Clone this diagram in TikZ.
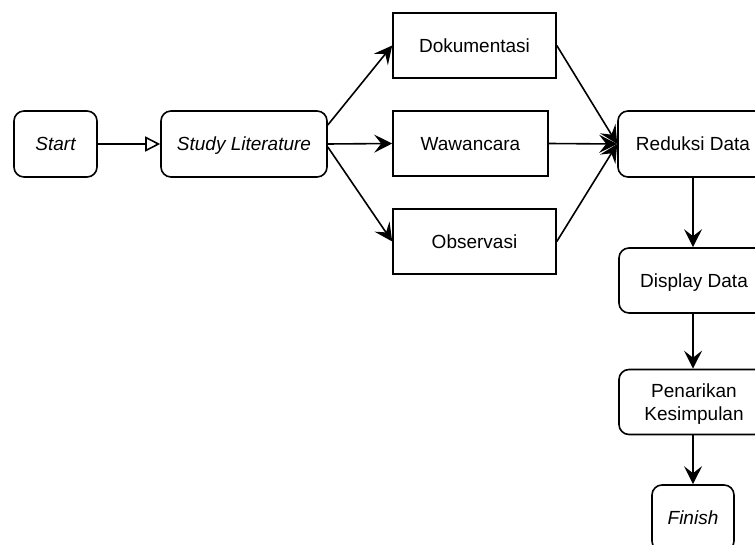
\documentclass[tikz,border=0pt]{standalone}
\usepackage{fontspec}
\setmainfont{Liberation Sans}
\usetikzlibrary{arrows.meta}
\begin{document}
\begin{tikzpicture}[x=1pt,y=-1pt,
  every node/.style={font=\fontsize{19}{23}\selectfont, inner sep=0pt, align=center, line width=1.6pt, draw=black, text depth=0pt},
  rbox/.style={rounded corners=10pt},
  sbox/.style={},
  conn/.style={line width=1.6pt, -{Stealth[length=18pt,width=18pt,inset=7pt]}},
  oconn/.style={line width=1.6pt, -{Triangle[open,length=15pt,width=15pt,line width=1.6pt]}}
]
\clip (0,0) rectangle (755,545);
\fill[white] (0,0) rectangle (755,545);
\node[rbox, minimum width=83pt, minimum height=66pt] (start) at (55.5,144) {\itshape Start};
\node[rbox, minimum width=166pt, minimum height=66pt] (sl) at (244,144) {\itshape Study Literature};
\node[sbox, minimum width=163pt, minimum height=65pt] (dok) at (474.5,45.5) {Dokumentasi};
\node[sbox, minimum width=155pt, minimum height=65pt] (waw) at (470.5,143.5) {Wawancara};
\node[sbox, minimum width=163pt, minimum height=65pt] (obs) at (474.5,241.5) {Observasi};
\node[rbox, minimum width=150pt, minimum height=66pt] (red) at (693,144) {Reduksi Data};
\node[rbox, minimum width=150pt, minimum height=65pt] (dis) at (694,280.5) {Display Data};
\node[rbox, minimum width=150pt, minimum height=65pt] (pen) at (694,402) {Penarikan\\Kesimpulan};
\node[rbox, minimum width=82pt, minimum height=66pt] (fin) at (693,518) {\itshape Finish};

\draw[oconn] (start) -- (sl);
\draw[conn] ([yshift=19pt]sl.east) -- (dok.west);
\draw[conn] (sl.east) -- (waw.west);
\draw[conn] ([yshift=-3pt]sl.east) -- (obs.west);
\draw[conn] (dok.east) -- (red.west);
\draw[conn] (waw.east) -- (red.west);
\draw[conn] (obs.east) -- (red.west);
\draw[conn] (red.south -| fin.north) -- (dis.north -| fin.north);
\draw[conn] (dis.south -| fin.north) -- (pen.north -| fin.north);
\draw[conn] (pen.south -| fin.north) -- (fin.north);
\end{tikzpicture}
\end{document}
